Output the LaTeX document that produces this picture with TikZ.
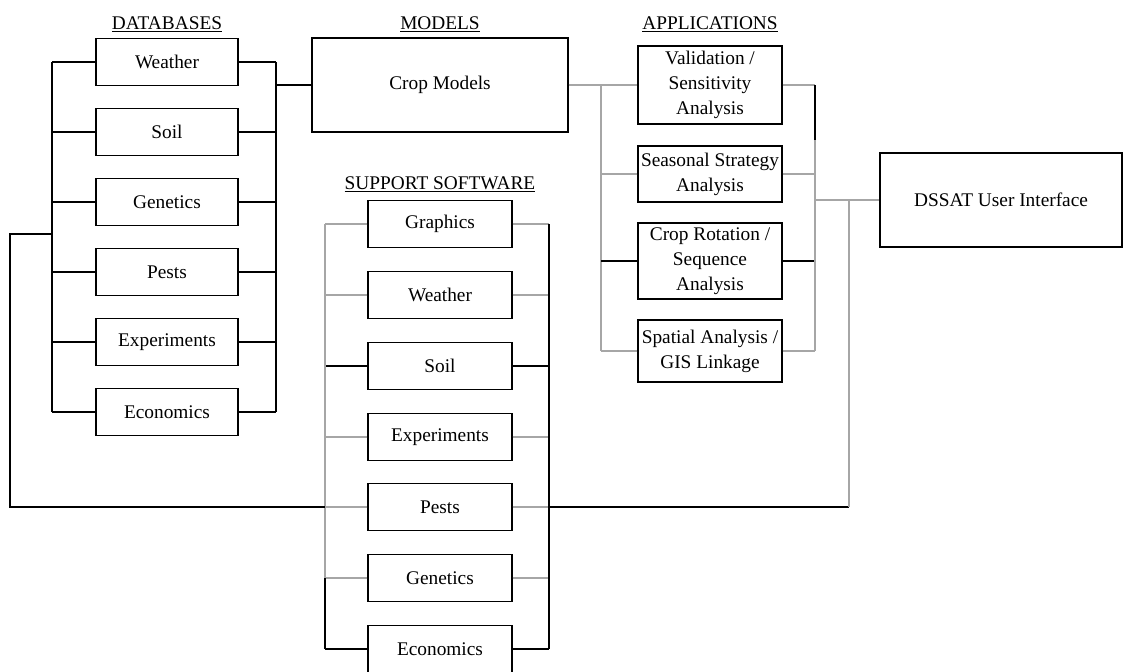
\documentclass[tikz,border=0pt]{standalone}
\usepackage{fontspec}
\setmainfont{Liberation Serif}
\begin{document}
\begin{tikzpicture}[x=0.03cm,y=-0.03cm,line width=0.9pt,font=\fontsize{16.5}{21.3}\selectfont] %% tikz
	\tikzstyle{kasten}=[draw,rectangle,inner sep=0pt,align=center];
	\tikzstyle{dbbox}=[kasten,minimum width=4.26cm,minimum height=1.41cm];
	\tikzstyle{swbox}=[kasten,minimum width=4.32cm,minimum height=1.41cm];
	\tikzstyle{apbox}=[kasten,minimum width=4.32cm];
	\tikzstyle{kopf}=[inner sep=0pt,anchor=base];
	\tikzstyle{grau}=[draw=black!35];
	\useasboundingbox (0,0) rectangle (1125,671);
	\clip (0,0) rectangle (1125,671);
	%% headings
	\node[kopf] (hDb) at (167,29) {\underline{DATABASES}};
	\node[kopf] (hMod) at (440,29) {\underline{MODELS}};
	\node[kopf] (hApp) at (710,29) {\underline{APPLICATIONS}};
	\node[kopf] (hSw) at (440,189) {\underline{SUPPORT SOFTWARE}};
	%% databases
	\node[dbbox] (dbWeather) at (167,62) {Weather};
	\node[dbbox] (dbSoil) at (167,132) {Soil};
	\node[dbbox] (dbGenetics) at (167,202) {Genetics};
	\node[dbbox] (dbPests) at (167,272) {Pests};
	\node[dbbox] (dbExperiments) at (167,342) {Experiments};
	\node[dbbox] (dbEconomics) at (167,412) {Economics};
	%% models
	\node[kasten,minimum width=7.68cm,minimum height=2.82cm] (cropModels) at (440,85) {Crop Models};
	%% applications
	\node[apbox,minimum height=2.34cm] (apValid) at (710,85) {Validation /\\Sensitivity\\Analysis};
	\node[apbox,minimum height=1.68cm] (apSeason) at (710,174) {Seasonal Strategy\\Analysis};
	\node[apbox,minimum height=2.28cm] (apRotation) at (710,261) {Crop Rotation /\\Sequence\\Analysis};
	\node[apbox,minimum height=1.86cm] (apSpatial) at (710,351) {Spatial Analysis /\\GIS Linkage};
	%% user interface
	\node[kasten,minimum width=7.26cm,minimum height=2.82cm] (dssat) at (1001,200) {DSSAT User Interface};
	%% support software
	\node[swbox] (swGraphics) at (440,224) {Graphics};
	\node[swbox] (swWeather) at (440,295) {Weather};
	\node[swbox] (swSoil) at (440,366) {Soil};
	\node[swbox] (swExperiments) at (440,437) {Experiments};
	\node[swbox] (swPests) at (440,507) {Pests};
	\node[swbox] (swGenetics) at (440,578) {Genetics};
	\node[swbox] (swEconomics) at (440,649) {Economics};
	%% bus lines
	\coordinate (dbL) at (52,0);
	\coordinate (dbR) at (276,0);
	\coordinate (apL) at (601,0);
	\coordinate (apR) at (815,0);
	\coordinate (apKnick) at (815,140);
	\coordinate (swL) at (325,0);
	\coordinate (swR) at (549,0);
	\coordinate (loopL) at (10,0);
	\coordinate (dbTap) at (52,234);
	\coordinate (uiL) at (849,0);
	%% databases -> models
	\foreach \n in {dbWeather,dbSoil,dbGenetics,dbPests,dbExperiments,dbEconomics}{
		\draw (\n.west) -- (\n.west -| dbL);
		\draw (\n.east) -- (\n.east -| dbR);
	}
	\draw (dbWeather.west -| dbL) -- (dbEconomics.west -| dbL);
	\draw (dbWeather.east -| dbR) -- (dbEconomics.east -| dbR);
	\draw (cropModels.west -| dbR) -- (cropModels.west);
	%% models -> applications
	\draw[grau] (cropModels.east) -- (apValid.west);
	\draw[grau] (apValid.west -| apL) -- (apSpatial.west -| apL);
	\foreach \n in {apSeason,apSpatial}{
		\draw[grau] (\n.west) -- (\n.west -| apL);
		\draw[grau] (\n.east) -- (\n.east -| apR);
	}
	\draw[grau] (apValid.east) -- (apValid.east -| apR);
	\draw (apRotation.west) -- (apRotation.west -| apL);
	\draw (apRotation.east) -- (apRotation.east -| apR);
	\draw (apValid.east -| apR) -- (apKnick);
	\draw[grau] (apKnick) -- (apSpatial.east -| apR);
	%% applications -> user interface
	\draw[grau] (dssat.west -| apR) -- (dssat.west);
	%% support software
	\foreach \n in {swGraphics,swWeather,swExperiments,swPests,swGenetics}{
		\draw[grau] (\n.west) -- (\n.west -| swL);
		\draw[grau] (\n.east) -- (\n.east -| swR);
	}
	\foreach \n in {swSoil,swEconomics}{
		\draw (\n.west) -- (\n.west -| swL);
		\draw (\n.east) -- (\n.east -| swR);
	}
	\draw[grau] (swGraphics.west -| swL) -- (swGenetics.west -| swL);
	\draw (swGenetics.west -| swL) -- (swEconomics.west -| swL);
	\draw (swGraphics.east -| swR) -- (swEconomics.east -| swR);
	%% outer loop
	\draw (dbTap) -- (dbTap -| loopL) -- (loopL |- swPests.west) -- (swPests.west -| swL);
	\draw (swPests.east -| swR) -- (swPests.east -| uiL);
	\draw[grau] (swPests.east -| uiL) -- (uiL |- dssat.west);
\end{tikzpicture}
\end{document}
